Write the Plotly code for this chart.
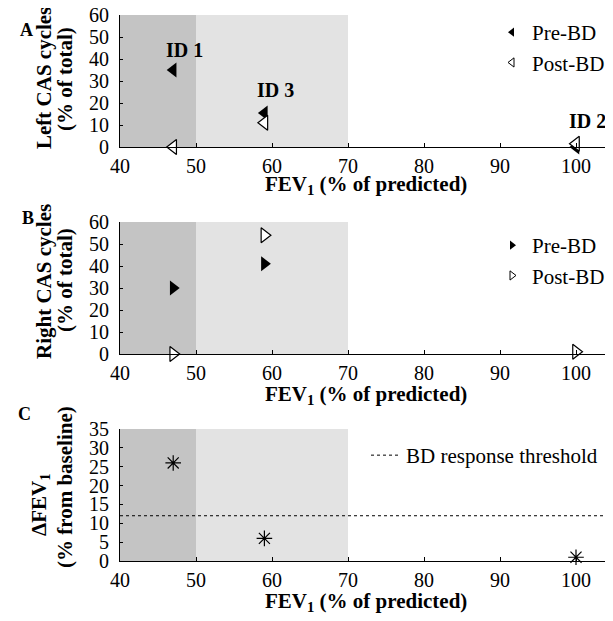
import plotly.graph_objects as go

# ---- data ----
ids = ["ID 1", "ID 3", "ID 2"]
fev1 = [47, 59, 100]
left_pre = [35, 15.5, 0]
left_post = [0, 11, 1.5]
right_pre = [30, 41, None]
right_post = [0, 54, 1]
delta_fev1 = [26, 6, 1]
bd_threshold = 12
id_label_x = [48.5, 60.5, 101.5]
id_label_y = [44, 26, 12]
x_ticks = [40, 50, 60, 70, 80, 90, 100]
severe_band = [40, 50]
moderate_band = [50, 70]

FONT = "Liberation Serif"
PAD = 8                      # default page body margin
FW, FH = 613 - 2 * PAD, 621 - 2 * PAD

def wx(px):
    return (px - PAD) / FW

def wy(py):
    return 1 - (py - PAD) / FH

x_dom = [wx(120), 1.0]
x_max = 40 + (613 - PAD - 120) / 7.6
doms = [(wy(147), wy(15)), (wy(354), wy(222)), (wy(561), wy(429))]

fig = go.Figure()

def mk(symbol, filled, size=13, lw=1.2):
    if filled:
        return dict(symbol=symbol, size=size, color="black")
    return dict(symbol=symbol, size=size, color="white", line=dict(color="black", width=lw))

# Panel A
fig.add_trace(go.Scatter(x=fev1, y=left_pre, mode="markers", xaxis="x", yaxis="y",
                         marker=mk("triangle-left", True), cliponaxis=False, showlegend=False))
fig.add_trace(go.Scatter(x=fev1, y=left_post, mode="markers", xaxis="x", yaxis="y",
                         marker=mk("triangle-left", False), cliponaxis=False, showlegend=False))
fig.add_trace(go.Scatter(x=[None], y=[None], mode="markers", xaxis="x", yaxis="y", name="Pre-BD",
                         marker=mk("triangle-left", True, 8), legend="legend"))
fig.add_trace(go.Scatter(x=[None], y=[None], mode="markers", xaxis="x", yaxis="y", name="Post-BD",
                         marker=mk("triangle-left", False, 8, 1), legend="legend"))

# Panel B
fig.add_trace(go.Scatter(x=fev1, y=right_pre, mode="markers", xaxis="x2", yaxis="y2",
                         marker=mk("triangle-right", True), cliponaxis=False, showlegend=False))
fig.add_trace(go.Scatter(x=fev1, y=right_post, mode="markers", xaxis="x2", yaxis="y2",
                         marker=mk("triangle-right", False), cliponaxis=False, showlegend=False))
fig.add_trace(go.Scatter(x=[None], y=[None], mode="markers", xaxis="x2", yaxis="y2", name="Pre-BD",
                         marker=mk("triangle-right", True, 8), legend="legend2"))
fig.add_trace(go.Scatter(x=[None], y=[None], mode="markers", xaxis="x2", yaxis="y2", name="Post-BD",
                         marker=mk("triangle-right", False, 8, 1), legend="legend2"))

# Panel C
fig.add_trace(go.Scatter(x=[40, x_max], y=[bd_threshold, bd_threshold], mode="lines",
                         xaxis="x3", yaxis="y3", name="BD response threshold",
                         line=dict(color="black", width=1, dash="dot"), legend="legend3"))
fig.add_trace(go.Scatter(x=fev1, y=delta_fev1, mode="markers", xaxis="x3", yaxis="y3",
                         marker=dict(symbol="asterisk-open", size=13, color="black",
                                     line=dict(color="black", width=1.2)),
                         cliponaxis=False, showlegend=False))

shapes = []
for ax in ["", "2", "3"]:
    shapes.append(dict(type="rect", xref="x" + ax, yref=f"y{ax} domain",
                       x0=severe_band[0], x1=severe_band[1], y0=0, y1=1,
                       fillcolor="#c4c4c4", line_width=0, layer="below"))
    shapes.append(dict(type="rect", xref="x" + ax, yref=f"y{ax} domain",
                       x0=moderate_band[0], x1=moderate_band[1], y0=0, y1=1,
                       fillcolor="#e3e3e3", line_width=0, layer="below"))

annotations = []
for name, xx, yy in zip(ids, id_label_x, id_label_y):
    annotations.append(dict(x=xx, y=yy, xref="x", yref="y", text=f"<b>{name}</b>",
                            showarrow=False, font=dict(family=FONT, size=20, color="black")))
for letter, (lx, ly) in zip(["A", "B", "C"], [(18, 18), (20, 218), (16, 426)]):
    annotations.append(dict(x=wx(lx), y=wy(ly), xref="paper", yref="paper",
                            text=f"<b>{letter}</b>", showarrow=False,
                            font=dict(family=FONT, size=18, color="black")))

title_font = dict(family=FONT, size=21, color="black")
# x-axis titles
for ty in [185, 395, 602]:
    annotations.append(dict(x=wx(366), y=wy(ty), xref="paper", yref="paper",
                            text="<b>FEV<sub>1</sub> (% of predicted)</b>", showarrow=False,
                            xanchor="center", yanchor="middle", font=title_font))
# y-axis titles (two lines each)
ytitles = [
    ("<b>Left CAS cycles</b>", 44, 78), ("<b>(% of total)</b>", 65, 79),
    ("<b>Right CAS cycles</b>", 44, 282), ("<b>(% of total)</b>", 65, 280),
    ("<b>ΔFEV<sub>1</sub></b>", 40, 505), ("<b>(% from baseline)</b>", 65, 487),
]
for txt, tx, ty in ytitles:
    annotations.append(dict(x=wx(tx), y=wy(ty), xref="paper", yref="paper", text=txt,
                            textangle=-90, showarrow=False, xanchor="center", yanchor="middle",
                            font=title_font))

tickfont = dict(family=FONT, size=20, color="black")

def xaxis(anchor):
    return dict(domain=x_dom, range=[40, x_max], tickvals=x_ticks, anchor=anchor,
                showline=True, linecolor="black", linewidth=1, ticks="inside", ticklen=4,
                tickcolor="black", showgrid=False, zeroline=False, tickfont=tickfont,
                ticklabelstandoff=1, ticklabeloverflow="allow", automargin=False)

def yaxis(dom, rng, dtick, anchor):
    return dict(domain=list(dom), range=rng, dtick=dtick, anchor=anchor,
                showline=True, linecolor="black", linewidth=1, ticks="inside", ticklen=3,
                tickcolor="black", showgrid=False, zeroline=False, tickfont=tickfont,
                ticklabelstandoff=6, ticklabeloverflow="allow", automargin=False)

legfont = dict(family=FONT, size=21, color="black")

fig.update_layout(
    width=FW, height=FH, margin=dict(l=0, r=0, t=0, b=0, autoexpand=False),
    plot_bgcolor="white", paper_bgcolor="white",
    font=dict(family=FONT, color="black"),
    xaxis=xaxis("y"), xaxis2=xaxis("y2"), xaxis3=xaxis("y3"),
    yaxis=yaxis(doms[0], [0, 60], 10, "x"),
    yaxis2=yaxis(doms[1], [0, 60], 10, "x2"),
    yaxis3=yaxis(doms[2], [0, 35], 5, "x3"),
    shapes=shapes, annotations=annotations,
    legend=dict(x=wx(492), y=wy(12), xanchor="left", yanchor="top", font=legfont,
                bgcolor="rgba(0,0,0,0)"),
    legend2=dict(x=wx(492), y=wy(225), xanchor="left", yanchor="top", font=legfont,
                 bgcolor="rgba(0,0,0,0)"),
    legend3=dict(x=wx(366), y=wy(435), xanchor="left", yanchor="top", font=legfont,
                 bgcolor="rgba(0,0,0,0)"),
)

fig.write_html("out.html")
